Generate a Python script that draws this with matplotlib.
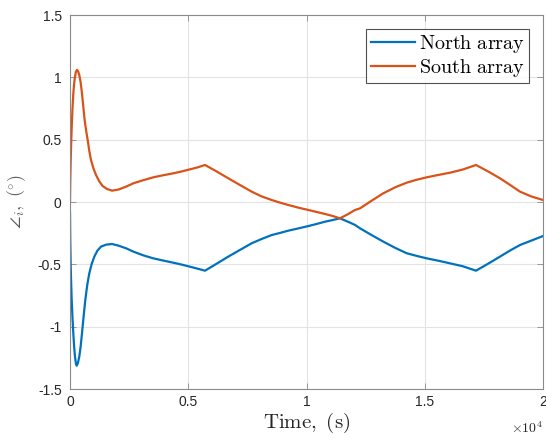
import numpy as np
import matplotlib
matplotlib.use("Agg")
import matplotlib.pyplot as plt

# values (time in s, angle in deg)
t_south = [0, 10, 30, 50, 72, 105, 140, 175, 211, 250, 296, 340, 393, 450, 507, 560, 620,
           685, 748, 815, 888, 990, 1099, 1240, 1381, 1560, 1776, 2050, 2368, 2678, 3100,
           3523, 3950, 4368, 4720, 5074, 5400, 5708, 6200, 6694, 7200, 7683, 8100, 8529,
           8880, 9232, 9650, 10077, 10430, 10782, 11100, 11416, 11750, 12051, 12262, 12750,
           13249, 13750, 14236, 14650, 15082, 15600, 16068, 16600, 17167, 17680, 18182,
           18600, 19027, 19500, 20000]
south = [0, 0.15, 0.337, 0.47, 0.6, 0.75, 0.87, 0.95, 1.005, 1.045, 1.06, 1.05, 1.018, 0.96,
         0.87, 0.77, 0.657, 0.57, 0.497, 0.41, 0.337, 0.27, 0.217, 0.165, 0.128, 0.105, 0.091,
         0.1, 0.123, 0.15, 0.175, 0.198, 0.215, 0.23, 0.245, 0.262, 0.278, 0.297, 0.245, 0.19,
         0.135, 0.083, 0.045, 0.016, -0.005, -0.024, -0.045, -0.064, -0.08, -0.096, -0.112,
         -0.131, -0.098, -0.064, -0.051, 0.01, 0.07, 0.118, 0.155, 0.178, 0.198, 0.218,
         0.235, 0.26, 0.297, 0.245, 0.19, 0.138, 0.083, 0.045, 0.016]

t_north = [0, 10, 30, 50, 72, 105, 140, 175, 211, 250, 283, 330, 393, 450, 507, 575, 647,
           730, 816, 920, 1029, 1160, 1311, 1530, 1776, 2050, 2368, 2678, 3100, 3523, 3950,
           4368, 4720, 5074, 5400, 5708, 6200, 6694, 7200, 7683, 8100, 8529, 8880, 9232,
           9650, 10077, 10430, 10782, 11100, 11416, 11750, 12051, 12262, 12750, 13249, 13750,
           14236, 14650, 15082, 15600, 16068, 16600, 17167, 17680, 18182, 18600, 19027,
           19500, 20000]
north = [-0.091, -0.3, -0.52, -0.66, -0.786, -0.93, -1.053, -1.16, -1.24, -1.295, -1.313,
         -1.295, -1.24, -1.16, -1.053, -0.92, -0.786, -0.665, -0.572, -0.495, -0.438, -0.39,
         -0.358, -0.342, -0.337, -0.35, -0.371, -0.398, -0.428, -0.452, -0.47, -0.487, -0.502,
         -0.519, -0.535, -0.551, -0.495, -0.438, -0.383, -0.331, -0.297, -0.265, -0.248,
         -0.23, -0.212, -0.193, -0.176, -0.158, -0.145, -0.131, -0.158, -0.184, -0.211,
         -0.265, -0.318, -0.368, -0.411, -0.432, -0.452, -0.472, -0.492, -0.515, -0.551,
         -0.495, -0.438, -0.39, -0.345, -0.31, -0.273]

blue = "#0072BD"
orange = "#D95319"

plt.rcParams['mathtext.fontset'] = 'cm'
plt.rcParams['font.family'] = ['Liberation Sans', 'DejaVu Sans']

fig = plt.figure(figsize=(5.46, 4.4), dpi=100)
ax = fig.add_axes([70/546, 51/440, 473/546, 374/440])

ax.plot(t_north, north, color=blue, lw=1.6, label=r'$\mathrm{North\ array}$')
ax.plot(t_south, south, color=orange, lw=1.6, label=r'$\mathrm{South\ array}$')

ax.set_xlim(0, 20000)
ax.set_ylim(-1.5, 1.5)
ax.set_xticks([0, 5000, 10000, 15000, 20000])
ax.set_xticklabels(['0', '0.5', '1', '1.5', '2'])
ax.set_yticks([-1.5, -1, -0.5, 0, 0.5, 1, 1.5])
ax.set_yticklabels(['-1.5', '-1', '-0.5', '0', '0.5', '1', '1.5'])
ax.grid(True, color='#e3e3e3', lw=0.8)
ax.set_axisbelow(True)
ax.tick_params(direction='in', length=4, width=0.6, colors='#8a8a8a', labelcolor='#262626',
               labelsize=10, top=True, right=True, pad=6)
ax.tick_params(axis='x', pad=4)
for s in ax.spines.values():
    s.set_color('#8a8a8a')
    s.set_linewidth(0.8)

ax.set_xlabel(r'$\mathrm{Time,\ (s)}$', fontsize=15, color='#262626', labelpad=2)
ax.set_ylabel(r'$\angle_i,\ (^{\circ})$', fontsize=13, color='#5a5a5a', labelpad=7)
ax.text(1.0, -0.085, r'$\times10^4$', transform=ax.transAxes, ha='right', va='top',
        fontsize=10, color='#262626', family='DejaVu Sans')

leg = ax.legend(loc='upper right', fontsize=14.5, frameon=True, fancybox=False,
                edgecolor='#262626', handlelength=2.2, borderpad=0.2, labelspacing=0.1,
                handletextpad=0.2, borderaxespad=0.7)
leg.get_frame().set_linewidth(0.8)

fig.savefig('out.png', dpi=100)
